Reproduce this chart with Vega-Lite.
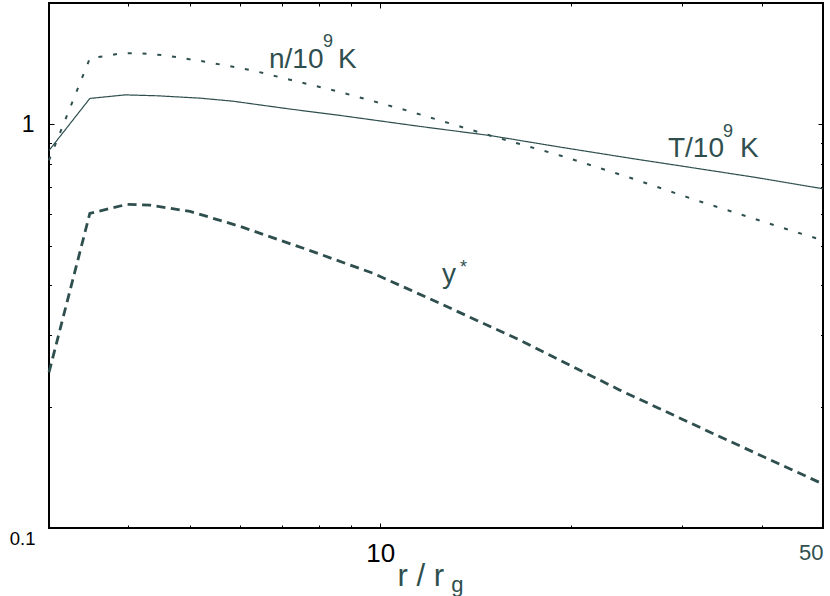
{
  "$schema": "https://vega.github.io/schema/vega-lite/v6.json",
  "width": 774,
  "height": 525,
  "autosize": {"type": "none"},
  "padding": {"left": 49, "top": 3, "right": 7, "bottom": 68},
  "config": {
    "font": "Liberation Sans",
    "view": {"stroke": "black", "strokeWidth": 2},
    "axis": {"grid": false, "domain": false, "tickColor": "black", "tickWidth": 1}
  },
  "datasets": {
    "curves": [
      {"r": 3.0, "v": 0.862, "s": "T"},
      {"r": 3.48, "v": 1.16, "s": "T"},
      {"r": 3.955, "v": 1.184, "s": "T"},
      {"r": 4.44, "v": 1.178, "s": "T"},
      {"r": 5.2, "v": 1.162, "s": "T"},
      {"r": 5.855, "v": 1.142, "s": "T"},
      {"r": 7.205, "v": 1.092, "s": "T"},
      {"r": 8.64, "v": 1.053, "s": "T"},
      {"r": 11.55, "v": 0.989, "s": "T"},
      {"r": 14.9, "v": 0.939, "s": "T"},
      {"r": 19.22, "v": 0.879, "s": "T"},
      {"r": 24.78, "v": 0.825, "s": "T"},
      {"r": 29.4, "v": 0.792, "s": "T"},
      {"r": 38.77, "v": 0.741, "s": "T"},
      {"r": 50, "v": 0.693, "s": "T"},
      {"r": 3.0, "v": 0.815, "s": "n"},
      {"r": 3.48, "v": 1.457, "s": "n"},
      {"r": 3.885, "v": 1.499, "s": "n"},
      {"r": 4.13, "v": 1.502, "s": "n"},
      {"r": 4.54, "v": 1.486, "s": "n"},
      {"r": 5.33, "v": 1.428, "s": "n"},
      {"r": 6.3, "v": 1.36, "s": "n"},
      {"r": 7.29, "v": 1.285, "s": "n"},
      {"r": 8.55, "v": 1.209, "s": "n"},
      {"r": 11.02, "v": 1.083, "s": "n"},
      {"r": 14.9, "v": 0.939, "s": "n"},
      {"r": 19.22, "v": 0.838, "s": "n"},
      {"r": 24.6, "v": 0.741, "s": "n"},
      {"r": 31.63, "v": 0.648, "s": "n"},
      {"r": 42.77, "v": 0.557, "s": "n"},
      {"r": 50, "v": 0.516, "s": "n"},
      {"r": 3.0, "v": 0.243, "s": "y"},
      {"r": 3.48, "v": 0.602, "s": "y"},
      {"r": 3.984, "v": 0.634, "s": "y"},
      {"r": 4.33, "v": 0.631, "s": "y"},
      {"r": 5.01, "v": 0.609, "s": "y"},
      {"r": 6.01, "v": 0.559, "s": "y"},
      {"r": 7.66, "v": 0.49, "s": "y"},
      {"r": 9.74, "v": 0.428, "s": "y"},
      {"r": 12.29, "v": 0.363, "s": "y"},
      {"r": 16.62, "v": 0.292, "s": "y"},
      {"r": 23.9, "v": 0.2196, "s": "y"},
      {"r": 34.38, "v": 0.1683, "s": "y"},
      {"r": 50, "v": 0.1285, "s": "y"}
    ],
    "mainLabels": [
      {"r": 6.674, "v": 1.38, "t": "n/10"},
      {"r": 8.58, "v": 1.38, "t": "K"},
      {"r": 28.46, "v": 0.8307, "t": "T/10"},
      {"r": 36.98, "v": 0.8307, "t": "K"},
      {"r": 12.52, "v": 0.4048, "t": "y"}
    ],
    "supLabels": [
      {"r": 8.12, "v": 1.556, "t": "9"},
      {"r": 34.76, "v": 0.9312, "t": "9"},
      {"r": 13.36, "v": 0.428, "t": "*"}
    ],
    "subLabels": [
      {"r": 12.95, "v": 0.0694, "t": "g"}
    ]
  },
  "resolve": {"axis": {"x": "independent", "y": "independent"}},
  "layer": [
    {
      "data": {"name": "curves"},
      "mark": {"type": "line", "color": "#2F4F4F", "strokeCap": "butt"},
      "encoding": {
        "x": {
          "field": "r", "type": "quantitative",
          "scale": {"type": "log", "domain": [3, 50], "nice": false},
          "axis": {
            "orient": "bottom",
            "values": [4, 5, 6, 7, 8, 9, 10, 20, 30, 40, 50],
            "labelExpr": "datum.value == 10 ? '10' : datum.value == 50 ? '50' : ''",
            "tickSize": {"condition": {"test": "datum.value == 10", "value": -5}, "value": -3},
            "labelFontSize": {"expr": "datum.value == 10 ? 26 : 22"},
            "labelColor": {"condition": {"test": "datum.value == 50", "value": "#2F4F4F"}, "value": "black"},
            "labelPadding": 17,
            "labelFlush": true,
            "title": "r / r",
            "titleFontSize": 31,
            "titleFontWeight": "normal",
            "titleColor": "#2F4F4F",
            "titleAnchor": "start",
            "titleAlign": "left",
            "titleBaseline": "alphabetic",
            "titleX": 348,
            "titleY": 57
          }
        },
        "y": {
          "field": "v", "type": "quantitative",
          "scale": {"type": "log", "domain": [0.1, 2], "nice": false},
          "axis": {
            "orient": "left",
            "values": [0.1, 0.2, 0.3, 0.4, 0.5, 0.6, 0.7, 0.8, 0.9, 1],
            "labelExpr": "datum.value == 1 ? '1' : datum.value == 0.1 ? '0.1' : ''",
            "tickSize": {"condition": {"test": "datum.value == 1", "value": -5}, "value": -2.5},
            "labelFontSize": {"expr": "datum.value == 1 ? 23 : 18.5"},
            "labelOffset": {"condition": {"test": "datum.value == 0.1", "value": 10}, "value": 0},
            "labelPadding": {"condition": {"test": "datum.value == 1", "value": 20}, "value": 16.5},
            "labelColor": "black",
            "title": null
          }
        },
        "strokeDash": {
          "field": "s", "type": "nominal",
          "scale": {"domain": ["T", "n", "y"], "range": [[1, 0], [4, 10.8], [9, 5.5]]},
          "legend": null
        },
        "strokeWidth": {
          "field": "s", "type": "nominal",
          "scale": {"domain": ["T", "n", "y"], "range": [1.2, 2.8, 2.2]},
          "legend": null
        }
      }
    },
    {
      "data": {"name": "mainLabels"},
      "mark": {"type": "text", "align": "left", "baseline": "alphabetic", "color": "#2F4F4F", "fontSize": 28},
      "encoding": {
        "x": {
          "field": "r", "type": "quantitative",
          "axis": {
            "orient": "top",
            "values": [4, 5, 6, 7, 8, 9, 10, 20, 30, 40, 50],
            "labels": false,
            "tickSize": {"condition": {"test": "datum.value == 10", "value": -5}, "value": -3},
            "title": null
          }
        },
        "y": {
          "field": "v", "type": "quantitative",
          "axis": {
            "orient": "right",
            "values": [0.1, 0.2, 0.3, 0.4, 0.5, 0.6, 0.7, 0.8, 0.9, 1],
            "labels": false,
            "tickSize": {"condition": {"test": "datum.value == 1", "value": -5}, "value": -2.5},
            "title": null
          }
        },
        "text": {"field": "t"}
      }
    },
    {
      "data": {"name": "supLabels"},
      "mark": {"type": "text", "align": "left", "baseline": "alphabetic", "color": "#2F4F4F", "fontSize": 18},
      "encoding": {
        "x": {"field": "r", "type": "quantitative", "axis": null},
        "y": {"field": "v", "type": "quantitative", "axis": null},
        "text": {"field": "t"}
      }
    },
    {
      "data": {"name": "subLabels"},
      "mark": {"type": "text", "align": "left", "baseline": "alphabetic", "color": "#2F4F4F", "fontSize": 22},
      "encoding": {
        "x": {"field": "r", "type": "quantitative", "axis": null},
        "y": {"field": "v", "type": "quantitative", "axis": null},
        "text": {"field": "t"}
      }
    }
  ]
}
